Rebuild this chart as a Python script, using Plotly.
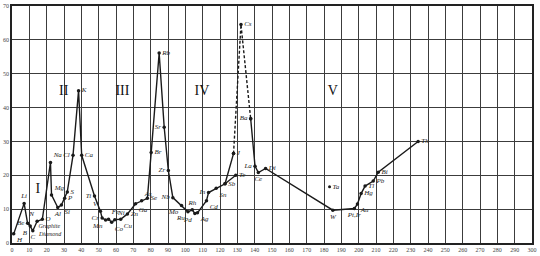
import plotly.graph_objects as go

# ---- data (atomic weight vs atomic volume) ----
seg1_names = ["H", "Li", "Be", "B", "C", "N", "O", "Na", "Mg", "Al", "Si", "P", "S", "Cl", "K", "Ca",
              "Ti", "V", "Cr", "Mn", "Fe", "Co", "Ni", "Cu", "Zn", "Ga", "As", "Se", "Br", "Rb", "Sr",
              "Zr", "Nb", "Mo", "Ru", "Rh", "Pd", "Ag", "Cd", "In", "Sn", "Sb", "J"]
seg1_x = [1.0, 7.0, 9.0, 10.5, 12.0, 14.5, 17.5, 22.2, 22.8, 26.4, 28.5, 30.4, 31.9, 35.2, 38.4, 40.2,
          47.6, 51.0, 52.0, 54.0, 55.7, 57.5, 59.3, 62.7, 66.6, 71.3, 74.8, 78.1, 80.3, 84.9, 87.8,
          90.2, 92.8, 97.8, 101.5, 104.0, 105.5, 107.0, 112.2, 113.4, 117.8, 122.9, 127.8]
seg1_y = [2.7, 11.7, 5.8, 5.0, 3.6, 6.4, 7.0, 23.8, 14.2, 10.5, 11.2, 13.2, 15.1, 25.9, 45.0, 25.9,
          13.9, 9.4, 7.4, 6.8, 7.0, 6.1, 6.9, 7.0, 8.6, 11.6, 12.5, 13.2, 26.7, 56.1, 34.2,
          21.4, 13.4, 11.1, 9.2, 9.8, 8.7, 8.9, 12.5, 14.9, 16.2, 17.5, 26.4]
seg1_pos = ["bottom right", "top center", "middle left", "bottom left", "bottom center", "top left",
            "middle right", "top right", "top right", "bottom center", "bottom right", "middle right",
            "middle right", "middle left", "middle right", "middle right", "middle left", "top left",
            "middle left", "bottom left", "top right", "bottom right", "top right", "bottom right",
            "middle right", "bottom right", "top right", "middle right", "middle right", "middle right",
            "middle left", "middle left", "middle left", "bottom left", "bottom left", "top center",
            "bottom left", "bottom right", "bottom right", "middle left", "bottom right",
            "middle right", "middle right"]

te_names = ["Sb", "Te"]
te_x = [122.9, 129.1]
te_y = [17.5, 20.0]

dash_names = ["J", "Cs", "Ba"]
dash_x = [127.8, 132.1, 137.7]
dash_y = [26.4, 64.5, 36.7]

seg2_names = ["Ba", "La", "Ce", "Di", "W", "Pt,Ir", "Au", "Hg", "Tl", "Pb", "Bi", "Th"]
seg2_x = [137.7, 140.2, 142.1, 146.3, 185.1, 197.5, 199.3, 201.4, 203.7, 208.4, 211.3, 234.3]
seg2_y = [36.7, 22.7, 20.8, 22.0, 9.7, 10.2, 11.5, 14.6, 16.8, 18.3, 20.9, 30.0]
seg2_pos = ["middle left", "middle left", "bottom center", "middle right", "bottom center",
            "bottom center", "bottom right", "middle right", "middle right", "middle right",
            "middle right", "middle right"]

ta_name = ["Ta"]
ta_x = [183.2]
ta_y = [16.6]

periods = ["I", "II", "III", "IV", "V"]
period_x = [14.9, 29.8, 63.7, 109.6, 185.1]
period_y = [15.8, 44.8, 44.8, 44.8, 44.8]

notes = ["Graphite", "Diamond"]
note_x = [21.5, 22.0]
note_y = [5.0, 2.5]

x_ticks = list(range(0, 301, 10))
y_ticks = list(range(0, 71, 10))

INK = "#1a1a1a"
LBL = dict(family="Liberation Serif", size=7, color="#222", style="italic")

fig = go.Figure()
fig.add_trace(go.Scatter(x=seg1_x, y=seg1_y, mode="lines+markers+text", text=seg1_names,
                         textposition=seg1_pos, textfont=LBL,
                         line=dict(color=INK, width=1.4), marker=dict(color=INK, size=3.5)))
fig.add_trace(go.Scatter(x=te_x, y=te_y, mode="lines+markers+text", text=["", "Te"],
                         textposition="middle right", textfont=LBL,
                         line=dict(color=INK, width=1.4), marker=dict(color=INK, size=3.5)))
fig.add_trace(go.Scatter(x=dash_x, y=dash_y, mode="lines+markers+text", text=["", "Cs", ""],
                         textposition="middle right", textfont=LBL,
                         line=dict(color=INK, width=1.4, dash="3px,2px"), marker=dict(color=INK, size=3.5)))
fig.add_trace(go.Scatter(x=seg2_x, y=seg2_y, mode="lines+markers+text", text=seg2_names,
                         textposition=seg2_pos, textfont=LBL,
                         line=dict(color=INK, width=1.4), marker=dict(color=INK, size=3.5)))
fig.add_trace(go.Scatter(x=ta_x, y=ta_y, mode="markers+text", text=ta_name,
                         textposition="middle right", textfont=LBL,
                         marker=dict(color=INK, size=3)))
fig.add_trace(go.Scatter(x=note_x, y=note_y, mode="text", text=notes, textposition="middle center",
                         textfont=dict(family="Liberation Serif", size=6, color="#222", style="italic")))
fig.add_trace(go.Scatter(x=period_x, y=period_y, mode="text", text=periods, textposition="middle center",
                         textfont=dict(family="Liberation Serif", size=14, color="#111")))

axis_common = dict(showgrid=True, gridcolor="#3c3c3c", gridwidth=1, zeroline=False,
                   showline=True, linecolor="#222", linewidth=1.5, mirror=True,
                   ticks="", tickfont=dict(family="Liberation Serif", size=6, color="#444"))
fig.update_xaxes(range=[0, 300], tickvals=x_ticks, ticktext=[str(v) for v in x_ticks], **axis_common)
fig.update_yaxes(range=[0, 70], tickvals=y_ticks, ticktext=[str(v) for v in y_ticks], **axis_common)

fig.update_layout(width=540, height=256, margin=dict(l=9, r=8, t=3, b=10),
                  paper_bgcolor="white", plot_bgcolor="white", showlegend=False)

fig.write_html("out.html")
